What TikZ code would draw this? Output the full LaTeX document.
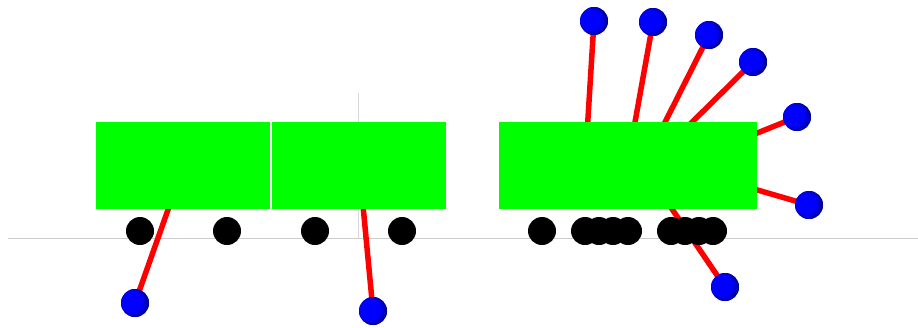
\documentclass[tikz,border=0pt]{standalone}
\usetikzlibrary{shapes.geometric}
\pgfdeclareradialshading{knobshade}{\pgfpoint{-9bp}{4bp}}{color(0bp)=(blue); color(18bp)=(blue); color(28bp)=(blue!55!black); color(50bp)=(blue!55!black)}
\begin{document}
\begin{tikzpicture}[x=1pt,y=-1pt,
  car/.style={fill=green,draw=none},
  wheel/.style={circle,fill=black,minimum size=28pt,inner sep=0pt},
  knob/.style={circle,shading=knobshade,minimum size=28pt,inner sep=0pt},
  rod/.style={draw=red,line width=5.5pt},
  guide/.style={draw=gray!40,line width=0.8pt}]
\useasboundingbox (0,0) rectangle (918,327);
% guide lines
\coordinate (gl) at (8,238); \coordinate (gr) at (918,238);
\coordinate (vt) at (358,93); \coordinate (vb) at (358,238);
\draw[guide] (gl) -- (gr);
\draw[guide,draw=blue!8!gray!30] (vt) -- (vb);
% rod anchors (inside cars)
\coordinate (a1) at (175,190);
\coordinate (a2) at (362,195);
\coordinate (a3) at (586,150);
\coordinate (a4) at (630,150);
\coordinate (a5) at (651,150);
\coordinate (a6) at (674,140);
\coordinate (a7) at (730,144);
\coordinate (a8) at (730,182);
\coordinate (a9) at (655,184);
% knobs
\node[knob] (k1) at (135,303) {};
\node[knob] (k2) at (373,311) {};
\node[knob] (k3) at (594,21) {};
\node[knob] (k4) at (653,22) {};
\node[knob] (k5) at (709,35) {};
\node[knob] (k6) at (753,62) {};
\node[knob] (k7) at (797,117) {};
\node[knob] (k8) at (809,205) {};
\node[knob] (k9) at (725,287) {};
% rods
\foreach \i in {1,...,9} \draw[rod] (a\i) -- (k\i.center);
% cars
\fill[car] (96,122) rectangle (270,209);
\fill[car] (272,122) rectangle (446,209);
\fill[car] (499,122) rectangle (757,209);
% wheels
\foreach \n/\x in {w1/140,w2/227,w3/315,w4/402,w5/542,w6/585,w7/599,w8/613,w9/628,w10/671,w11/685,w12/699,w13/713}
  \node[wheel] (\n) at (\x,231) {};
% knobs on top of rods
\foreach \i in {1,...,9}
  \node[knob] at (k\i) {};
\end{tikzpicture}
\end{document}
